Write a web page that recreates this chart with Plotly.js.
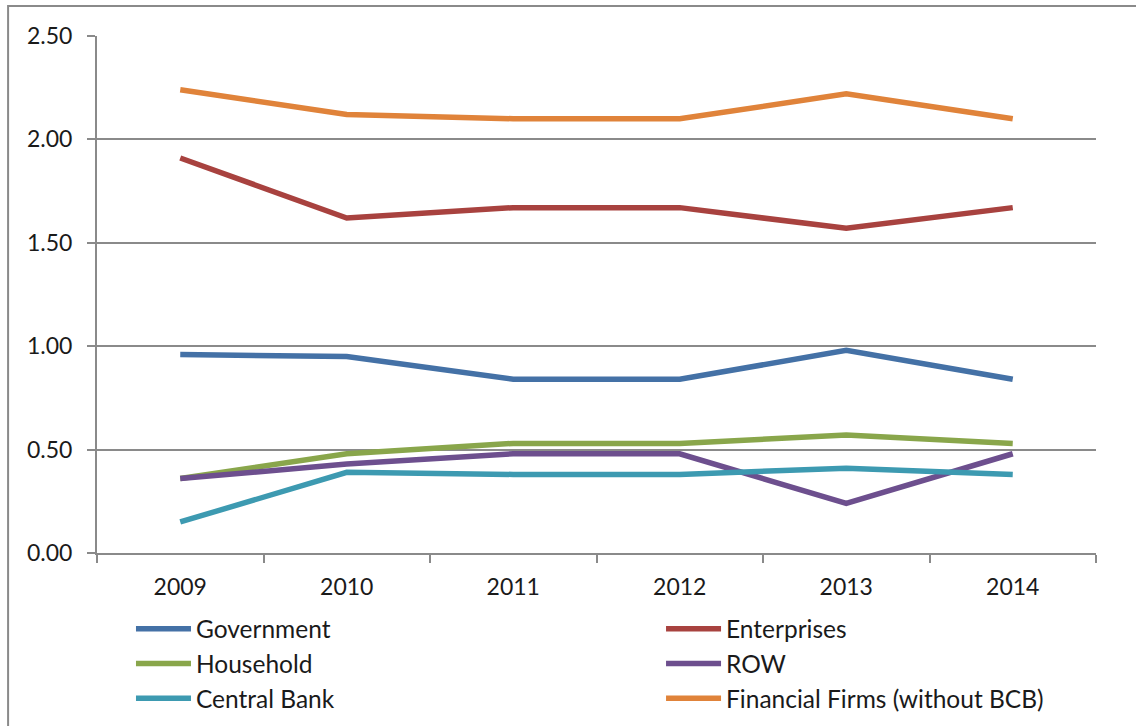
<!DOCTYPE html>
<html>
<head>
<meta charset="utf-8">
<script src="https://cdn.plot.ly/plotly-3.0.1.min.js"></script>
<style>html,body{margin:0;padding:0;background:#fff;}#chart{width:1136px;height:726px;}</style>
</head>
<body>
<div id="chart"></div>
<script>
const years = ['2009', '2010', '2011', '2012', '2013', '2014'];
const seriesNames = ['Government', 'Enterprises', 'Household', 'ROW', 'Central Bank', 'Financial Firms (without BCB)'];
const government = [0.96, 0.95, 0.84, 0.84, 0.98, 0.84];
const enterprises = [1.91, 1.62, 1.67, 1.67, 1.57, 1.67];
const household = [0.36, 0.48, 0.53, 0.53, 0.57, 0.53];
const row = [0.36, 0.43, 0.48, 0.48, 0.24, 0.48];
const centralBank = [0.15, 0.39, 0.38, 0.38, 0.41, 0.38];
const financialFirms = [2.24, 2.12, 2.10, 2.10, 2.22, 2.10];
const yTicks = [0, 0.5, 1, 1.5, 2, 2.5];
const yTickLabels = ['0.00', '0.50', '1.00', '1.50', '2.00', '2.50'];

const values = [government, enterprises, household, row, centralBank, financialFirms];
const colors = ['#4471A6', '#A8423F', '#89A64B', '#6D4F8E', '#3D9AB1', '#E0833A'];
const legendOf = ['legend', 'legend2', 'legend', 'legend2', 'legend', 'legend2'];

const traces = values.map((v, i) => ({
  type: 'scatter',
  mode: 'lines',
  x: years,
  y: v,
  name: seriesNames[i],
  legend: legendOf[i],
  line: {color: colors[i], width: 5.5},
  hoverinfo: 'x+y+name'
}));

const tickFont = {family: 'Lato, "Open Sans", sans-serif', size: 23, color: '#1a1a1a'};
const legFont = {family: 'Lato, "Open Sans", sans-serif', size: 24.5, color: '#1a1a1a'};

const legendBase = {
  orientation: 'v',
  xref: 'container',
  yref: 'container',
  y: 0.165,
  xanchor: 'left',
  yanchor: 'top',
  itemwidth: 55,
  tracegroupgap: 0,
  font: legFont,
  bgcolor: 'rgba(0,0,0,0)'
};

const layout = {
  width: 1136,
  height: 726,
  margin: {l: 97, r: 40, t: 36, b: 173, autoexpand: false},
  paper_bgcolor: '#ffffff',
  plot_bgcolor: '#ffffff',
  font: tickFont,
  showlegend: true,
  xaxis: {
    type: 'category',
    range: [-0.5, 5.5],
    showline: true,
    linecolor: '#8a8a8a',
    linewidth: 2,
    showgrid: false,
    ticks: 'outside',
    tickson: 'boundaries',
    ticklen: 8,
    tickwidth: 2,
    tickcolor: '#8a8a8a',
    tickfont: tickFont,
    tickangle: 0,
    ticklabelstandoff: 12,
    automargin: false,
    fixedrange: true
  },
  yaxis: {
    range: [0, 2.5],
    tickvals: yTicks,
    ticktext: yTickLabels,
    showline: true,
    linecolor: '#8a8a8a',
    linewidth: 2,
    showgrid: true,
    gridcolor: '#8a8a8a',
    gridwidth: 2,
    zeroline: false,
    ticks: 'outside',
    ticklen: 8,
    tickwidth: 2,
    tickcolor: '#8a8a8a',
    tickfont: tickFont,
    ticklabelstandoff: 10,
    automargin: false,
    fixedrange: true
  },
  legend: Object.assign({}, legendBase, {x: 0.1153}),
  legend2: Object.assign({}, legendBase, {x: 0.5819}),
  shapes: [{
    type: 'rect',
    xref: 'paper', yref: 'paper',
    x0: -0.089, x1: 1.2, y0: -0.6, y1: 1.058,
    line: {color: '#8a8a8a', width: 2},
    fillcolor: 'rgba(0,0,0,0)',
    layer: 'below'
  }]
};

Plotly.newPlot('chart', traces, layout, {displayModeBar: false, staticPlot: true});
</script>
</body>
</html>
